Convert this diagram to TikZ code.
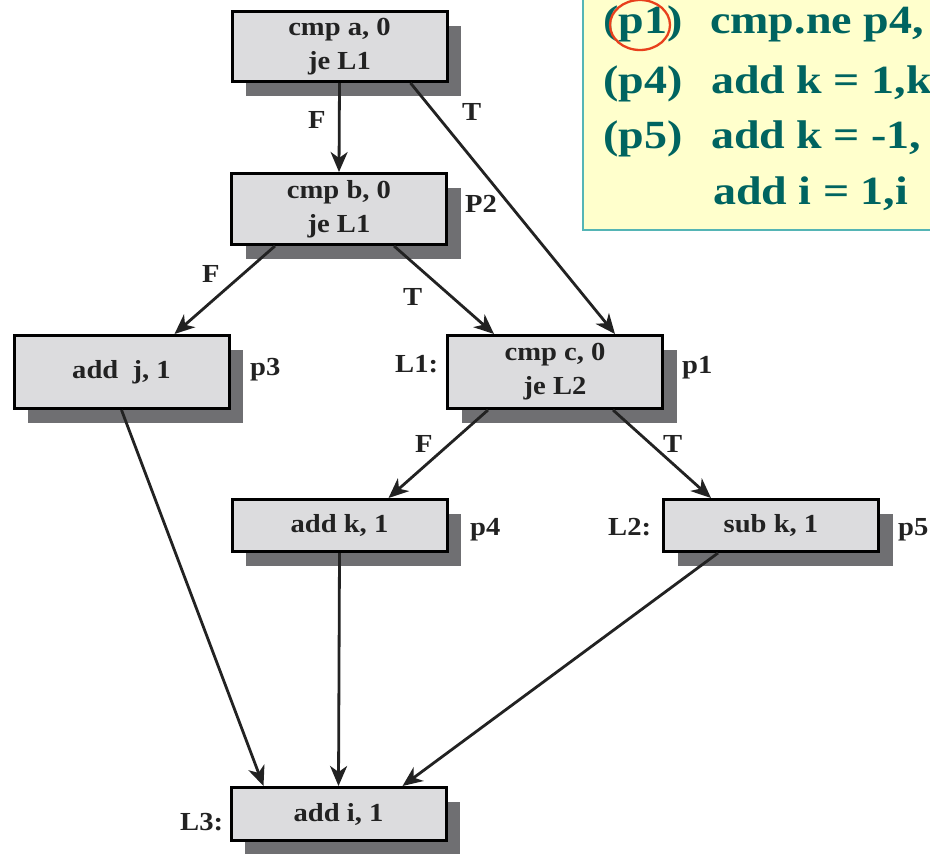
\documentclass[tikz,border=0pt]{standalone}
\usepackage{fontspec}
\setmainfont{Liberation Serif}[FakeStretch=1.1]
\newfontfamily\yfont{Liberation Serif}[FakeStretch=1.15]
\usetikzlibrary{arrows.meta,shadows}
\definecolor{boxfill}{HTML}{DCDCDE}
\definecolor{shadowc}{HTML}{6F6F72}
\definecolor{txtc}{HTML}{222222}
\definecolor{ytext}{HTML}{006460}
\definecolor{yfill}{HTML}{FFFFCC}
\definecolor{yborder}{HTML}{55B5B5}
\definecolor{redc}{HTML}{E8401C}
\tikzset{
  cfgbox/.style={draw=black, line width=3pt, fill=boxfill, inner sep=0pt,
    minimum width=215pt, align=center, text=txtc,
    font=\fontsize{26}{34}\selectfont\bfseries,
    drop shadow={shadow xshift=14pt, shadow yshift=-14pt, fill=shadowc, opacity=1}},
  lbl/.style={inner sep=0pt, anchor=base west, text=txtc,
    font=\fontsize{26}{30}\selectfont\bfseries},
  arr/.style={line width=2.8pt, draw=txtc,
    -{Stealth[length=20pt,width=17pt,inset=6pt]}},
  ytxt/.style={inner sep=0pt, anchor=base west, text=ytext,
    font=\yfont\fontsize{40}{48}\selectfont\bfseries}
}
\begin{document}
\begin{tikzpicture}[x=1pt,y=-1pt]
\clip (0,0) rectangle (930,854);
\fill[white] (0,0) rectangle (930,854);
% yellow note
\filldraw[fill=yfill, draw=yborder, line width=2.2pt] (583,-10) rectangle (960,230);
\node[ytxt] (y1a) at (603,33) {(p1)};
\node[ytxt] (y1b) at (710,33) {cmp.ne p4,};
\node[ytxt] (y2a) at (603,93) {(p4)};
\node[ytxt] (y2b) at (711,93) {add k = 1,k};
\node[ytxt] (y3a) at (603,148) {(p5)};
\node[ytxt] (y3b) at (711,148) {add k = -1,};
\node[ytxt] (y4b) at (713,204) {add i = 1,i};
\draw[redc, line width=2.3pt] (640,25) ellipse [x radius=30, y radius=25];
% boxes
\node[cfgbox, minimum height=70pt] (A) at (339.5,46.5) {cmp a, 0\\je L1};
\node[cfgbox, minimum height=71pt] (B) at (339,209) {cmp b, 0\\je L1};
\node[cfgbox, minimum height=73pt] (P3) at (121.5,372) {add\ \ j, 1};
\node[cfgbox, minimum height=73pt] (L1) at (555,372) {cmp c, 0\\je L2};
\node[cfgbox, minimum height=52pt] (P4) at (339.5,525.5) {add k, 1};
\node[cfgbox, minimum height=52pt] (P5) at (771,525.5) {sub k, 1};
\node[cfgbox, minimum height=53pt] (L3) at (338.5,814) {add i, 1};
% side labels
\node[lbl] (lp3) at (250,375) {p3};
\node[lbl] (lp2) at (465,212) {P2};
\node[lbl] (ll1) at (395,372) {L1:};
\node[lbl] (lp1) at (682,373) {p1};
\node[lbl] (lp4) at (470,535) {p4};
\node[lbl] (ll2) at (608,535) {L2:};
\node[lbl] (lp5) at (898,535) {p5};
\node[lbl] (ll3) at (180,830) {L3:};
% connectors
\draw[arr] (A.south) -- (B.north);
\draw[arr] ([xshift=71pt]A.south) -- ([xshift=60pt]L1.north);
\draw[arr] ([xshift=-64pt]B.south) -- ([xshift=53pt]P3.north);
\draw[arr] ([xshift=55pt]B.south) -- ([xshift=-61pt]L1.north);
\draw[arr] ([xshift=-67pt]L1.south) -- ([xshift=49pt]P4.north);
\draw[arr] ([xshift=58pt]L1.south) -- ([xshift=-60pt]P5.north);
\draw[arr] (P3.south) -- ([xshift=-75pt]L3.north);
\draw[arr] (P4.south) -- (L3.north);
\draw[arr] ([xshift=-53pt]P5.south) -- ([xshift=64pt]L3.north);
% edge labels
\node[lbl] (f1) at (308,128) {F};
\node[lbl] (t1) at (462,120) {T};
\node[lbl] (f2) at (202,282) {F};
\node[lbl] (t2) at (403,305) {T};
\node[lbl] (f3) at (415,452) {F};
\node[lbl] (t3) at (663,452) {T};
\end{tikzpicture}
\end{document}
